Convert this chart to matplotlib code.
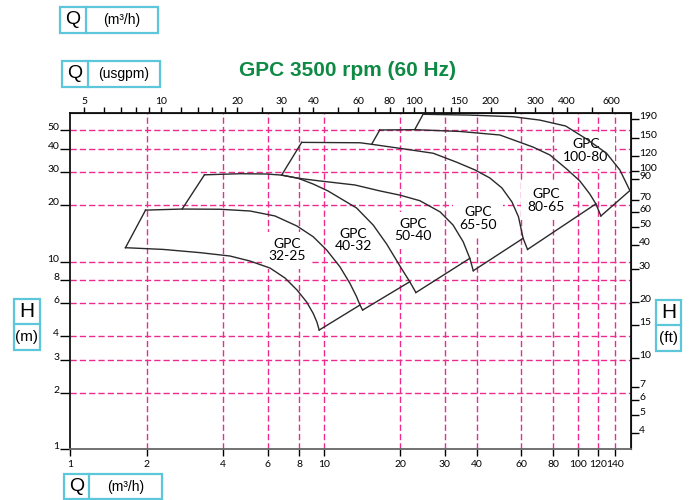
import matplotlib
matplotlib.use('Agg')
import matplotlib.pyplot as plt
from matplotlib.patches import Rectangle
from matplotlib.ticker import NullLocator, NullFormatter

plt.rcParams['font.family'] = ['Lato', 'DejaVu Sans']

# pump curves, Q in m3/h and H in m
c0_q = [1.65, 2.33, 3.25, 4.26, 5.11, 6.13, 7.02, 7.83, 8.55, 9.07, 9.38, 9.58]
c0_h = [11.85, 11.6, 11.15, 10.7, 10.06, 9.23, 8.17, 7.05, 6.08, 5.29, 4.76, 4.31]

c1_q = [1.98, 2.76, 3.89, 5.11, 6.41, 7.83, 9.07, 10.25, 11.56, 12.66, 13.45, 13.87, 14.21]
c1_h = [18.8, 19.05, 19.0, 18.6, 17.5, 15.46, 13.56, 11.52, 9.38, 7.65, 6.49, 5.86, 5.51]

c2_q = [3.38, 4.67, 5.94, 6.81, 7.92, 9.07, 10.37, 11.56, 13.45, 15.64, 17.67, 19.94, 21.8, 23.05]
c2_h = [29.0, 29.4, 29.3, 28.9, 27.8, 25.9, 23.8, 21.8, 19.3, 15.65, 12.4, 9.46, 7.8, 6.83]

c3_q = [6.81, 7.92, 9.64, 13.25, 16.62, 19.94, 23.9, 28.7, 32.3, 35.4, 37.6, 38.8]
c3_h = [28.9, 27.8, 26.9, 25.6, 23.8, 22.6, 21.1, 18.4, 15.65, 12.75, 10.4, 8.93]

c4_q = [8.17, 10.56, 13.87, 15.42, 20.86, 26.97, 33.3, 39.4, 45.1, 50.3, 55.1, 58.5, 61.0, 63.5]
c4_h = [43.2, 43.1, 43.0, 42.2, 39.8, 37.8, 33.9, 30.8, 27.9, 24.7, 20.8, 17.3, 13.3, 11.6]

c5_q = [16.6, 22.8, 34.4, 49.4, 66.7, 77.8, 90.7, 102.1, 111.8, 118.1, 123.6]
c5_h = [50.3, 50.5, 49.4, 47.3, 40.8, 37.0, 31.1, 26.9, 22.9, 20.3, 17.5]

c6_q = [24.6, 37.6, 55.7, 71.0, 89.8, 108.5, 130.1, 146.8, 160.8]
c6_h = [61.0, 60.4, 59.2, 56.8, 52.8, 45.0, 37.8, 30.8, 23.9]

curves_q = [c0_q, c1_q, c2_q, c3_q, c4_q, c5_q, c6_q]
curves_h = [c0_h, c1_h, c2_h, c3_h, c4_h, c5_h, c6_h]

# left edges: (curve, point index) -> start of next curve
left_edges = [(0, 0), (1, 1), (3, 0), (4, 3), (5, 1)]
# right edges: end of curve k -> point on curve k+1
right_top_idx = [-2, -2, -2, -2, -2, -1]

labels = ['GPC\n32-25', 'GPC\n40-32', 'GPC\n50-40', 'GPC\n65-50', 'GPC\n80-65', 'GPC\n100-80']
label_q = [7.15, 13.1, 22.4, 40.6, 75.0, 107.8]
label_h = [11.5, 13.0, 14.7, 17.0, 21.1, 39.1]

q_ticks = [1, 2, 4, 6, 8, 10, 20, 30, 40, 60, 80, 100, 120, 140]
h_ticks = [1, 2, 3, 4, 6, 8, 10, 20, 30, 40, 50]
q_grid = [2, 4, 6, 8, 10, 20, 30, 40, 60, 80, 100, 120, 140]
h_grid = [2, 3, 4, 6, 8, 10, 20, 30, 40, 50]
gpm_ticks = [5, 10, 20, 30, 40, 60, 80, 100, 150, 200, 300, 400, 600]
gpm_minor = [6, 7, 8, 9, 12, 14, 16, 18, 25, 35, 50, 70, 90, 110, 120, 130, 140, 250, 350, 500]
ft_ticks = [4, 5, 6, 7, 10, 15, 20, 30, 40, 50, 60, 70, 90, 100, 120, 150, 190]

W, H = 691, 500
fig = plt.figure(figsize=(W / 100, H / 100), dpi=100)
ax = fig.add_axes([70.3 / W, 1 - 449 / H, 560.4 / W, 336.3 / H])
ax.set_xscale('log')
ax.set_yscale('log')
ax.set_xlim(1, 162)
ax.set_ylim(1, 62.2)

pink = '#ee2a8f'
for q in q_grid:
    ax.axvline(q, color=pink, lw=1.0, ls=(0, (4.5, 2.2)), zorder=1)
for h in h_grid:
    ax.axhline(h, color=pink, lw=1.0, ls=(0, (4.5, 2.2)), zorder=1)

lc = '#2a2a2a'
for q, h in zip(curves_q, curves_h):
    ax.plot(q, h, color=lc, lw=1.0, zorder=4)
for k, i in left_edges:
    ax.plot([curves_q[k][i], curves_q[k + 1][0]], [curves_h[k][i], curves_h[k + 1][0]],
            color=lc, lw=1.0, zorder=4)
for k, j in enumerate(right_top_idx):
    ax.plot([curves_q[k][-1], curves_q[k + 1][j]], [curves_h[k][-1], curves_h[k + 1][j]],
            color=lc, lw=1.0, zorder=4)

for t, q, h in zip(labels, label_q, label_h):
    ax.text(q, h, t, ha='center', va='center', fontsize=10, linespacing=1.05, zorder=3,
            bbox=dict(boxstyle='square,pad=0.45', fc='white', ec='none'))

ax.set_xticks(q_ticks, [str(v) for v in q_ticks])
ax.set_yticks(h_ticks, [str(v) for v in h_ticks])
ax.xaxis.set_minor_locator(NullLocator())
ax.yaxis.set_minor_locator(NullLocator())
ax.tick_params(axis='x', direction='out', length=5, width=1, labelsize=7.5, pad=3)
ax.tick_params(axis='y', direction='out', length=7, width=1, labelsize=7.5, pad=1)
plt.setp(ax.get_yticklabels(), va='baseline')
for s in ax.spines.values():
    s.set_linewidth(1.3)
    s.set_color('#111111')
ax.spines['bottom'].set_color('#666666')

top = ax.secondary_xaxis('top', functions=(lambda q: q * 4.403, lambda g: g / 4.403))
top.set_xticks(gpm_ticks, [str(v) for v in gpm_ticks])
top.set_xticks(gpm_minor, minor=True)
top.xaxis.set_minor_formatter(NullFormatter())
top.tick_params(which='both', direction='out', length=4, width=1, labelsize=7.5, pad=1)

right = ax.secondary_yaxis('right', functions=(lambda m: m * 3.281, lambda f: f / 3.281))
right.set_yticks(ft_ticks, [str(v) for v in ft_ticks])
right.yaxis.set_minor_locator(NullLocator())
right.tick_params(direction='out', length=6, width=1, labelsize=7.5, pad=0)
plt.setp(right.get_yticklabels(), va='baseline')

fig.text(347.5 / W, 1 - 70 / H, 'GPC 3500 rpm (60 Hz)', ha='center', va='center',
         fontsize=15, fontweight='bold', color='#0f8a45', family=['Liberation Sans', 'DejaVu Sans'])

cyan = '#5cc6da'
narrow = ['Liberation Sans Narrow', 'Liberation Sans', 'DejaVu Sans']


def unit_box(x0, y0, x1, y1, split, first, second, horizontal=True):
    fig.patches.append(Rectangle((x0 / W, 1 - y1 / H), (x1 - x0) / W, (y1 - y0) / H,
                                 transform=fig.transFigure, fill=False, ec=cyan, lw=1.6))
    if horizontal:
        fig.add_artist(plt.Line2D([split / W, split / W], [1 - y0 / H, 1 - y1 / H],
                                  transform=fig.transFigure, color=cyan, lw=1.6))
        yc = 1 - (y0 + y1) / 2 / H
        fig.text((x0 + split) / 2 / W, yc, first, ha='center', va='center', fontsize=14, family=narrow)
        fig.text((split + x1) / 2 / W, yc, second, ha='center', va='center', fontsize=10, family=narrow)
    else:
        fig.add_artist(plt.Line2D([x0 / W, x1 / W], [1 - split / H, 1 - split / H],
                                  transform=fig.transFigure, color=cyan, lw=1.6))
        xc = (x0 + x1) / 2 / W
        fig.text(xc, 1 - (y0 + split) / 2 / H, first, ha='center', va='center', fontsize=15, family=narrow)
        fig.text(xc, 1 - (split + y1) / 2 / H, second, ha='center', va='center', fontsize=11, family=narrow)


unit_box(60, 7, 158, 33, 86, 'Q', '(m³/h)')
unit_box(62, 61, 160, 87, 88, 'Q', '(usgpm)')
unit_box(64, 474, 162, 499, 89, 'Q', '(m³/h)')
unit_box(14, 299, 40, 350, 324, 'H', '(m)', horizontal=False)
unit_box(656, 300, 681, 351, 325, 'H', '(ft)', horizontal=False)

fig.savefig('out.png', dpi=100)
